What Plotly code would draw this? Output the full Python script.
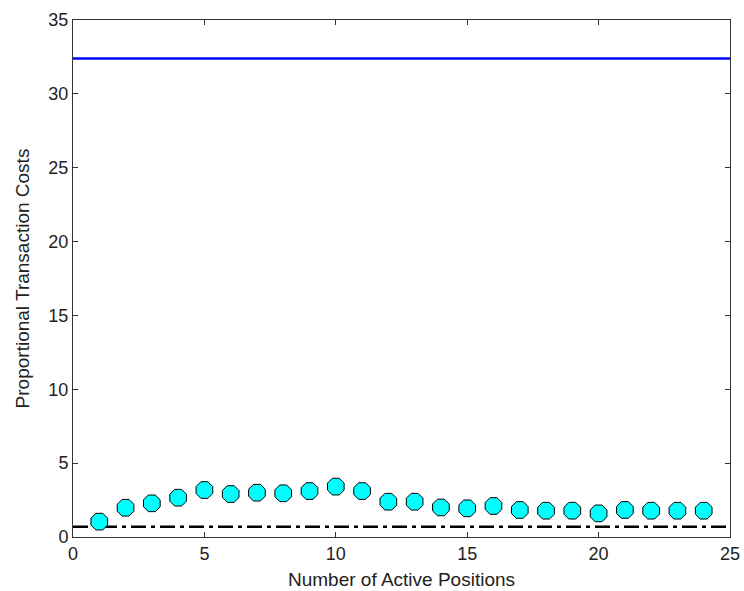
import plotly.graph_objects as go

# Transaction costs per number of active positions
positions = list(range(1, 25))
costs = [1.04, 1.98, 2.28, 2.66, 3.18, 2.91, 3.00, 2.96, 3.11, 3.41, 3.11, 2.39,
         2.39, 2.00, 1.94, 2.10, 1.83, 1.78, 1.78, 1.60, 1.83, 1.78, 1.78, 1.78]

# Reference levels drawn across the full x range
x_span = [0, 25]
upper_level = 32.4
lower_level = 0.7

FONT = "Liberation Sans, Arial, sans-serif"

fig = go.Figure()

fig.add_trace(go.Scatter(
    x=x_span, y=[upper_level, upper_level], mode="lines",
    line=dict(color="#0000ff", width=2.5), showlegend=False, hoverinfo="skip"))

fig.add_trace(go.Scatter(
    x=x_span, y=[lower_level, lower_level], mode="lines",
    line=dict(color="black", width=2.5, dash="15px,5px,4px,5px"),
    showlegend=False, hoverinfo="skip"))

fig.add_trace(go.Scatter(
    x=positions, y=costs, mode="markers",
    marker=dict(symbol="octagon", size=18, color="#00ffff",
                line=dict(color="black", width=1)),
    showlegend=False))

axis_common = dict(
    showgrid=False, zeroline=False, showline=True, linecolor="#333333", linewidth=1,
    mirror="ticks", ticks="inside", ticklen=5, tickcolor="#333333",
    tickfont=dict(family=FONT, size=18, color="#222222"), automargin=False,
)

fig.update_xaxes(range=[0, 25], tickvals=[0, 5, 10, 15, 20, 25],
                 title=dict(text="Number of Active Positions", standoff=10,
                            font=dict(family=FONT, size=19, color="#222222")),
                 **axis_common)
fig.update_yaxes(range=[0, 35], tickvals=[0, 5, 10, 15, 20, 25, 30, 35],
                 title=dict(text="Proportional Transaction Costs", standoff=13,
                            font=dict(family=FONT, size=19, color="#222222")),
                 **axis_common)

fig.update_layout(
    width=744, height=591,
    margin=dict(l=73, r=14, t=20, b=54),
    paper_bgcolor="white", plot_bgcolor="white",
)

fig.write_html("out.html")
